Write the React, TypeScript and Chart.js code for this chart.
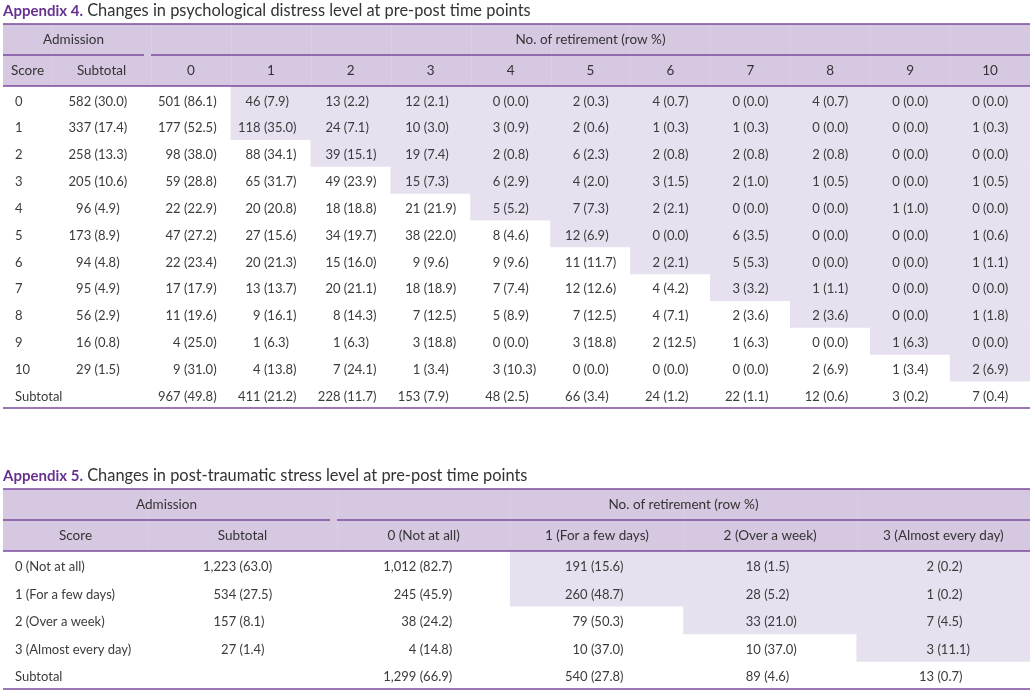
import React, { useEffect, useRef } from 'react';
import { Chart, registerables } from 'chart.js';

Chart.register(...registerables);

// ================= Appendix 4 (data) =================
const T1_TITLE_LEAD = 'Appendix 4.';
const T1_TITLE_TEXT = 'Changes in psychological distress level at pre-post time points';
const T1_GROUPS = ['Admission', 'No. of retirement (row %)'];
const T1_LEFT_HEADS = ['Score', 'Subtotal'];
const T1_CATEGORIES = ['0', '1', '2', '3', '4', '5', '6', '7', '8', '9', '10'];
const T1_ROWS = ['0', '1', '2', '3', '4', '5', '6', '7', '8', '9', '10', 'Subtotal'];
const T1_SUBTOTAL_N = [582, 337, 258, 205, 96, 173, 94, 95, 56, 16, 29, null];
const T1_SUBTOTAL_PCT = [30.0, 17.4, 13.3, 10.6, 4.9, 8.9, 4.8, 4.9, 2.9, 0.8, 1.5, null];
const T1_COUNTS = [
  [501, 46, 13, 12, 0, 2, 4, 0, 4, 0, 0],
  [177, 118, 24, 10, 3, 2, 1, 1, 0, 0, 1],
  [98, 88, 39, 19, 2, 6, 2, 2, 2, 0, 0],
  [59, 65, 49, 15, 6, 4, 3, 2, 1, 0, 1],
  [22, 20, 18, 21, 5, 7, 2, 0, 0, 1, 0],
  [47, 27, 34, 38, 8, 12, 0, 6, 0, 0, 1],
  [22, 20, 15, 9, 9, 11, 2, 5, 0, 0, 1],
  [17, 13, 20, 18, 7, 12, 4, 3, 1, 0, 0],
  [11, 9, 8, 7, 5, 7, 4, 2, 2, 0, 1],
  [4, 1, 1, 3, 0, 3, 2, 1, 0, 1, 0],
  [9, 4, 7, 1, 3, 0, 0, 0, 2, 1, 2],
  [967, 411, 228, 153, 48, 66, 24, 22, 12, 3, 7],
];
const T1_PCTS = [
  [86.1, 7.9, 2.2, 2.1, 0.0, 0.3, 0.7, 0.0, 0.7, 0.0, 0.0],
  [52.5, 35.0, 7.1, 3.0, 0.9, 0.6, 0.3, 0.3, 0.0, 0.0, 0.3],
  [38.0, 34.1, 15.1, 7.4, 0.8, 2.3, 0.8, 0.8, 0.8, 0.0, 0.0],
  [28.8, 31.7, 23.9, 7.3, 2.9, 2.0, 1.5, 1.0, 0.5, 0.0, 0.5],
  [22.9, 20.8, 18.8, 21.9, 5.2, 7.3, 2.1, 0.0, 0.0, 1.0, 0.0],
  [27.2, 15.6, 19.7, 22.0, 4.6, 6.9, 0.0, 3.5, 0.0, 0.0, 0.6],
  [23.4, 21.3, 16.0, 9.6, 9.6, 11.7, 2.1, 5.3, 0.0, 0.0, 1.1],
  [17.9, 13.7, 21.1, 18.9, 7.4, 12.6, 4.2, 3.2, 1.1, 0.0, 0.0],
  [19.6, 16.1, 14.3, 12.5, 8.9, 12.5, 7.1, 3.6, 3.6, 0.0, 1.8],
  [25.0, 6.3, 6.3, 18.8, 0.0, 18.8, 12.5, 6.3, 0.0, 6.3, 0.0],
  [31.0, 13.8, 24.1, 3.4, 10.3, 0.0, 0.0, 0.0, 6.9, 3.4, 6.9],
  [49.8, 21.2, 11.7, 7.9, 2.5, 3.4, 1.2, 1.1, 0.6, 0.2, 0.4],
];
// first retirement column that is shaded in each row (null = none)
const T1_SHADE_FROM = [1, 1, 2, 3, 4, 5, 6, 7, 8, 9, 10, null];

// ================= Appendix 5 (data) =================
const T2_TITLE_LEAD = 'Appendix 5.';
const T2_TITLE_TEXT = 'Changes in post-traumatic stress level at pre-post time points';
const T2_GROUPS = ['Admission', 'No. of retirement (row %)'];
const T2_LEFT_HEADS = ['Score', 'Subtotal'];
const T2_CATEGORIES = ['0 (Not at all)', '1 (For a few days)', '2 (Over a week)', '3 (Almost every day)'];
const T2_ROWS = ['0 (Not at all)', '1 (For a few days)', '2 (Over a week)', '3 (Almost every day)', 'Subtotal'];
const T2_SUBTOTAL_N = [1223, 534, 157, 27, null];
const T2_SUBTOTAL_PCT = [63.0, 27.5, 8.1, 1.4, null];
const T2_COUNTS = [
  [1012, 191, 18, 2],
  [245, 260, 28, 1],
  [38, 79, 33, 7],
  [4, 10, 10, 3],
  [1299, 540, 89, 13],
];
const T2_PCTS = [
  [82.7, 15.6, 1.5, 0.2],
  [45.9, 48.7, 5.2, 0.2],
  [24.2, 50.3, 21.0, 4.5],
  [14.8, 37.0, 37.0, 11.1],
  [66.9, 27.8, 4.6, 0.7],
];
const T2_SHADE_FROM = [1, 1, 2, 3, null];

// ================= styles / layout =================
const FONT = 'Lato, "Noto Sans", sans-serif';
const HEADER_BG = '#d6c8e1';
const SHADE = '#e7e1ef';
const LINE = '#7a4b9c';
const TITLE_C = '#66318f';
const TEXT = '#3b3b3b';

type Spec = {
  titleLead: string;
  titleText: string;
  groups: string[];
  leftHeads: string[];
  categories: string[];
  rows: string[];
  subN: (number | null)[];
  subP: (number | null)[];
  counts: number[][];
  pcts: number[][];
  shadeFrom: (number | null)[];
  // layout
  top: number;
  height: number;
  pad: { top: number; bottom: number; left: number; right: number };
  headerRow: number;
  colW: number[];
  anchorOff: number[];
  textDy: number;
  labelX: number;
};

const T1_LAYOUT = {
  top: 0,
  height: 420,
  pad: { top: 86, bottom: 12, left: 3, right: 5 },
  headerRow: 31,
  colW: [49, 99, 79.9, 79.9, 79.9, 79.9, 79.9, 79.9, 79.9, 79.9, 79.9, 79.9, 79.9],
  anchorOff: [-7, -7, -7, -7, -7, -7, -7, -7, -7, -7, -7, -7, -7],
  textDy: 2,
  labelX: 12,
};

const T2_LAYOUT = {
  top: 440,
  height: 256,
  pad: { top: 111, bottom: 7, left: 3, right: 5 },
  headerRow: 31,
  colW: [145, 189, 173.25, 173.25, 173.25, 173.25],
  anchorOff: [0, -3, -4, -6, -6, -6],
  textDy: 2,
  labelX: 12,
};

const SPEC1: Spec = {
  titleLead: T1_TITLE_LEAD, titleText: T1_TITLE_TEXT, groups: T1_GROUPS, leftHeads: T1_LEFT_HEADS,
  categories: T1_CATEGORIES, rows: T1_ROWS, subN: T1_SUBTOTAL_N, subP: T1_SUBTOTAL_PCT,
  counts: T1_COUNTS, pcts: T1_PCTS, shadeFrom: T1_SHADE_FROM, ...T1_LAYOUT,
};
const SPEC2: Spec = {
  titleLead: T2_TITLE_LEAD, titleText: T2_TITLE_TEXT, groups: T2_GROUPS, leftHeads: T2_LEFT_HEADS,
  categories: T2_CATEGORIES, rows: T2_ROWS, subN: T2_SUBTOTAL_N, subP: T2_SUBTOTAL_PCT,
  counts: T2_COUNTS, pcts: T2_PCTS, shadeFrom: T2_SHADE_FROM, ...T2_LAYOUT,
};

function edgesOf(colW: number[]): number[] {
  const e = [0];
  colW.forEach((w) => e.push(e[e.length - 1] + w));
  return e;
}

const fmtN = (n: number) => n.toLocaleString('en-US');
const fmtP = (p: number) => p.toFixed(1);

function makePlugin(spec: Spec) {
  const edges = edgesOf(spec.colW);
  const total = edges[edges.length - 1];
  const nLeft = spec.leftHeads.length;
  return {
    id: 'tableDraw',
    beforeDatasetsDraw(chart: any) {
      const { ctx, chartArea, scales } = chart;
      const xs = scales.x;
      const left = xs.getPixelForValue(0);
      const right = xs.getPixelForValue(total);
      const hTop = chartArea.top - 2 * spec.headerRow;
      ctx.save();
      ctx.fillStyle = HEADER_BG;
      ctx.fillRect(left, hTop, right - left, 2 * spec.headerRow);
      ctx.fillStyle = 'rgba(255,255,255,0.12)';
      for (let i = 1; i < edges.length - 1; i++) {
        const px = Math.round(xs.getPixelForValue(edges[i]));
        ctx.fillRect(px, hTop, 1, 2 * spec.headerRow);
      }
      ctx.restore();
    },
    afterDatasetsDraw(chart: any) {
      const { ctx, chartArea, scales } = chart;
      const xs = scales.x;
      const ys = scales.y;
      const px = (v: number) => xs.getPixelForValue(v);
      const left = px(0);
      const right = px(total);
      const hTop = chartArea.top - 2 * spec.headerRow;
      const hMid = chartArea.top - spec.headerRow;
      const groupStart = px(edges[nLeft]);
      ctx.save();

      // rules
      ctx.strokeStyle = LINE;
      ctx.lineWidth = 1.5;
      const hline = (y: number, x0: number, x1: number) => {
        ctx.beginPath();
        ctx.moveTo(x0, y);
        ctx.lineTo(x1, y);
        ctx.stroke();
      };
      hline(hTop, left, right);
      hline(hMid, left, groupStart - 7);
      hline(hMid, groupStart, right);
      hline(chartArea.top, left, right);
      hline(chartArea.bottom, left, right);

      // title
      ctx.textBaseline = 'alphabetic';
      ctx.textAlign = 'left';
      ctx.font = `bold 15px ${FONT}`;
      ctx.fillStyle = TITLE_C;
      ctx.fillText(spec.titleLead, left, hTop - 8);
      const w = ctx.measureText(spec.titleLead).width;
      ctx.font = `16.4px ${FONT}`;
      ctx.fillStyle = '#333333';
      ctx.fillText(' ' + spec.titleText, left + w, hTop - 8);

      // header texts
      ctx.font = `13.5px ${FONT}`;
      ctx.fillStyle = '#333333';
      ctx.textBaseline = 'middle';
      ctx.textAlign = 'center';
      const r1 = hTop + spec.headerRow / 2 + 0.5;
      const r2 = hMid + spec.headerRow / 2 + 0.5;
      ctx.fillText(spec.groups[0], (left + groupStart - 7) / 2, r1);
      ctx.fillText(spec.groups[1], (groupStart + right) / 2, r1);
      spec.leftHeads.forEach((h, i) => {
        ctx.fillText(h, (px(edges[i]) + px(edges[i + 1])) / 2, r2);
      });
      spec.categories.forEach((c, j) => {
        const k = nLeft + j;
        ctx.fillText(c, (px(edges[k]) + px(edges[k + 1])) / 2, r2);
      });

      // body
      ctx.font = `13px ${FONT}`;
      ctx.fillStyle = TEXT;
      const cell = (n: number, p: number, k: number, y: number) => {
        const cx = (px(edges[k]) + px(edges[k + 1])) / 2 + spec.anchorOff[k];
        ctx.textAlign = 'right';
        ctx.fillText(fmtN(n) + ' ', cx, y);
        ctx.textAlign = 'left';
        ctx.fillText('(' + fmtP(p) + ')', cx, y);
      };
      spec.rows.forEach((label, i) => {
        const y = ys.getPixelForValue(i) + spec.textDy;
        ctx.textAlign = 'left';
        ctx.fillText(label, left + spec.labelX, y);
        const sn = spec.subN[i];
        const sp = spec.subP[i];
        if (sn != null && sp != null) cell(sn, sp, 1, y);
        spec.counts[i].forEach((n, j) => cell(n, spec.pcts[i][j], nLeft + j, y));
      });
      ctx.restore();
    },
  };
}

function TableChart({ spec }: { spec: Spec }) {
  const ref = useRef<HTMLCanvasElement | null>(null);
  useEffect(() => {
    if (!ref.current) return;
    const edges = edgesOf(spec.colW);
    const total = edges[edges.length - 1];
    const nLeft = spec.leftHeads.length;
    const chart = new Chart(ref.current, {
      type: 'bar',
      data: {
        labels: spec.rows,
        datasets: [
          {
            data: spec.shadeFrom.map((s) => (s == null ? null : [edges[nLeft + s], total])) as any,
            backgroundColor: SHADE,
            borderWidth: 0,
            barPercentage: 1,
            categoryPercentage: 1,
            grouped: false,
          } as any,
        ],
      },
      options: {
        indexAxis: 'y',
        responsive: false,
        maintainAspectRatio: false,
        animation: false,
        layout: { padding: spec.pad },
        scales: {
          x: { type: 'linear', min: 0, max: total, display: false },
          y: { type: 'category', display: false, offset: true },
        },
        plugins: {
          legend: { display: false },
          tooltip: { enabled: false },
          title: { display: false },
        },
      },
      plugins: [makePlugin(spec)],
    });
    return () => chart.destroy();
  }, [spec]);
  return (
    <canvas
      ref={ref}
      width={1035}
      height={spec.height}
      style={{ position: 'absolute', left: 0, top: spec.top, width: 1035, height: spec.height, display: 'block' }}
    />
  );
}

export default function App() {
  return (
    <div style={{ position: 'absolute', left: 0, top: 0, width: 1035, height: 696, background: '#ffffff', overflow: 'hidden' }}>
      <TableChart spec={SPEC1} />
      <TableChart spec={SPEC2} />
    </div>
  );
}
